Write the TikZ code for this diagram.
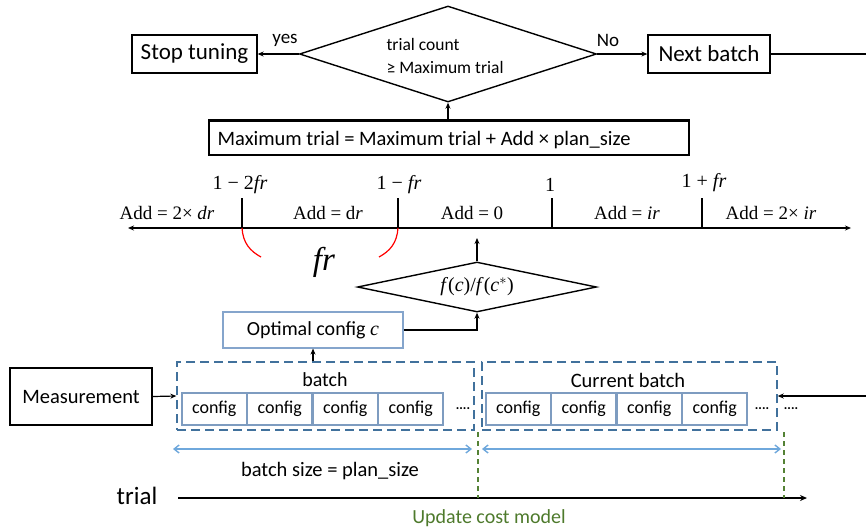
\documentclass[tikz,border=0pt]{standalone}
\usepackage{fontspec}
\newfontfamily\calib{Carlito}
\newfontfamily\tnr{Liberation Serif}
\usetikzlibrary{arrows.meta,shapes.geometric}
\definecolor{batchblue}{HTML}{41719C}
\definecolor{cfgblue}{HTML}{7E9CC0}
\definecolor{optblue}{HTML}{85A5CC}
\definecolor{arrblue}{HTML}{6FA8DC}
\definecolor{dgreen}{HTML}{548235}
\definecolor{tgreen}{HTML}{4E7A2C}
\begin{document}
\begin{tikzpicture}[x=1pt,y=-1pt,line width=1.2pt,
  >={Stealth[length=6pt,width=5pt]},
  cf/.style={font=\calib\fontsize{#1}{#1}\selectfont},
  sf/.style={font=\tnr\fontsize{#1}{#1}\selectfont},
  blk/.style={draw,line width=1.3pt,inner sep=0pt},
  dia/.style={draw,diamond,line width=1.4pt,inner sep=0pt},
  cfgbox/.style={draw=cfgblue,line width=1.1pt,inner sep=0pt,minimum width=64.5pt,minimum height=32pt,cf=18},
  batchbox/.style={draw=batchblue,line width=1.4pt,dash pattern=on 9pt off 5pt,minimum height=68pt,inner sep=0pt},
  barrow/.style={draw=arrblue,line width=1.4pt,{Straight Barb[length=5pt,width=8pt]}-{Straight Barb[length=5pt,width=8pt]}},
  gdash/.style={draw=dgreen,line width=1.1pt,dash pattern=on 5pt off 4pt}]
\useasboundingbox (0,0) rectangle (866,528);

% top decision
\node[blk,minimum width=125pt,minimum height=38pt,cf=23] (stop) at (194.5,54) {Stop tuning};
\node[dia,minimum width=297pt,minimum height=96pt] (dec) at (448,54) {};
\node[anchor=west,cf=17.5,inner sep=0pt] (tc) at (386,44) {trial count};
\node[anchor=west,cf=17.5,inner sep=0pt] (ge) at (386,67) {≥ Maximum trial};
\node[blk,minimum width=122pt,minimum height=38pt,cf=23] (next) at (709,54) {Next batch};
\node[cf=19,inner sep=0pt] (yes) at (285,40) {yes};
\node[cf=19,inner sep=0pt] (no) at (608,40) {No};
\draw[->] (dec.west) -- (stop.east);
\draw[->] (dec.east) -- (next.west);
\coordinate (offA) at (885,54);
\coordinate (offB) at (885,396);

% max trial box
\node[blk,minimum width=480pt,minimum height=34pt] (maxb) at (449,138) {};
\draw[line width=2.2pt] (maxb.north west) -- (maxb.north east);
\node[anchor=west,cf=20.5,inner sep=0pt] (maxt) at (217,140) {Maximum trial = Maximum trial + Add × plan\_size};
\draw[->] (maxb.north -| dec.south) -- (dec.south);

% number line
\coordinate (nlL) at (128,228);
\coordinate (nlR) at (851,228);
\draw[line width=1.3pt,<->] (nlL) -- (nlR);
\foreach \x/\n in {242/a,398/b,552/c,702/d}{
  \coordinate (t\n) at (\x,228);
  \coordinate (u\n) at (\x,198);
  \draw[line width=1.4pt] (u\n) -- (t\n);
}
\node[sf=20,inner sep=0pt] (la) at (240,185) {1 − 2\textit{fr}};
\node[sf=20,inner sep=0pt] (lb) at (399,185) {1 − \textit{fr}};
\node[sf=20,inner sep=0pt] (lc) at (550,185) {1};
\node[sf=20,inner sep=0pt] (ld) at (704,183) {1 + \textit{fr}};
\node[sf=19,inner sep=0pt] (sa) at (167,213) {Add = 2× \textit{dr}};
\node[sf=19,inner sep=0pt] (sb) at (328,213) {Add = d\textit{r}};
\node[sf=19,inner sep=0pt] (sc) at (472,213) {Add = 0};
\node[sf=19,inner sep=0pt] (sd) at (627,213) {Add = \textit{ir}};
\node[sf=19,inner sep=0pt] (se) at (771,213) {Add = 2× \textit{ir}};
\draw[red,line width=1.2pt] (ta) .. controls (243,243) and (250,251) .. (261,257);
\draw[red,line width=1.2pt] (tb) .. controls (397,243) and (390,251) .. (379,257);
\node[sf=33,inner sep=0pt] (fr) at (324,262) {\textit{fr}};

% ratio diamond
\node[dia,shape aspect=4.8,minimum width=239pt,minimum height=50pt,sf=20] (dec2) at (477,287) {\textit{f}(\textit{c})/\textit{f}(\textit{c}$^*$)};
\coordinate (nltip) at (477,238);
\draw[->] (dec2.north) -- (nltip);
\node[draw=optblue,line width=1.1pt,inner sep=0pt,minimum width=180pt,minimum height=36pt,cf=20] (opt) at (313,330) {Optimal config {\tnr\itshape c}};
\draw[->] (opt.east) -| (dec2.south);

% batches
\node[blk,minimum width=142pt,minimum height=57pt,cf=20.5] (meas) at (81,396.5) {Measurement};
\node[batchbox,minimum width=297pt] (bat) at (325.5,396) {};
\node[batchbox,minimum width=295pt] (cur) at (629.5,396) {};
\node[cf=20,inner sep=0pt] (batl) at (325,380) {batch};
\node[cf=20.5,inner sep=0pt] (curl) at (628,380) {Current batch};
\foreach \i/\x in {1/214.25,2/279.75,3/345.25,4/410.75}{
  \node[cfgbox] (b\i) at (\x,409) {config};
}
\foreach \i/\x in {1/518.25,2/583.75,3/649.25,4/714.75}{
  \node[cfgbox] (c\i) at (\x,409) {config};
}
\node[cf=14,inner sep=0pt] (d1) at (463,410) {····};
\node[cf=14,inner sep=0pt] (d2) at (762,410) {····};
\node[cf=14,inner sep=0pt] (d3) at (791,410) {····};
\draw[->] (meas.east) -- (bat.west);
\draw[->] (opt.south |- bat.north) -- (opt.south);
\draw[->] (next.east) -- (offA) -- (offB) -- (cur.east);

% sizes
\coordinate (a1) at (173,449);
\coordinate (a2) at (472,449);
\coordinate (a3) at (482,449);
\coordinate (a4) at (781,449);
\draw[barrow] (a1) -- (a2);
\draw[barrow] (a3) -- (a4);
\node[cf=20.5,inner sep=0pt] (bsz) at (330,471) {batch size = plan\_size};

% trial line
\node[cf=25,inner sep=0pt] (trl) at (137,496) {trial};
\coordinate (tr1) at (178,498);
\coordinate (tr2) at (807,498);
\draw[line width=2.4pt,-{Stealth[length=7pt,width=6pt]}] (tr1) -- (tr2);
\coordinate (g1a) at (478,432);
\coordinate (g1b) at (478,498);
\coordinate (g2a) at (784,432);
\coordinate (g2b) at (784,498);
\draw[gdash] (g1a) -- (g1b);
\draw[gdash] (g2a) -- (g2b);
\node[cf=20,inner sep=0pt,text=tgreen] (upd) at (489,518) {Update cost model};
\end{tikzpicture}
\end{document}
